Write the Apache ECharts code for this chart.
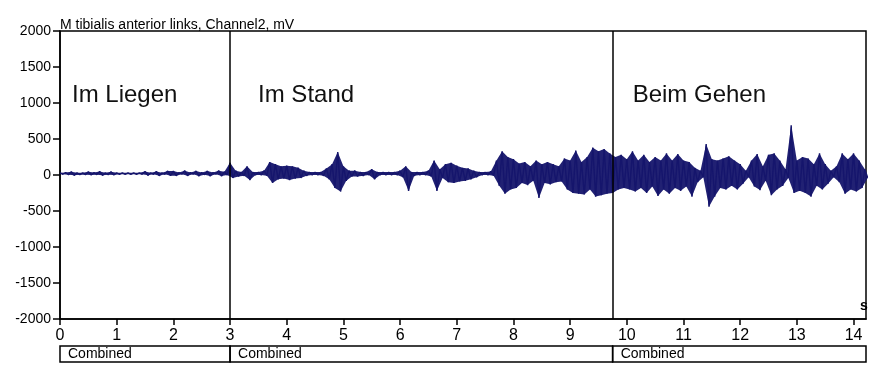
<!DOCTYPE html>
<html><head><meta charset="utf-8">
<script src="https://cdn.jsdelivr.net/npm/echarts@6/dist/echarts.min.js"></script>
<style>html,body{margin:0;padding:0;background:#fff}#c{width:880px;height:372px}</style>
</head><body><div id="c"></div>
<script>
// bin start times step 0.1 s, 0.0 .. 14.2
const binStep = 0.1;
// upper envelope per 0.1 s bin (mV)
const hiVals = [
 30,35,45,30,30,45,35,50,30,45,
 30,30,30,30,30,50,30,50,30,55,
 55,35,60,35,55,35,55,35,60,45,
 170,60,40,120,40,40,60,180,150,120,
 130,120,100,60,40,40,40,90,150,320,
 120,60,60,40,40,80,40,40,40,40,
 60,120,40,40,40,60,200,80,150,170,
 130,100,90,60,40,40,50,200,330,250,
 220,160,180,120,200,150,180,150,120,230,
 200,340,180,250,380,330,360,300,250,280,
 220,330,200,280,180,250,200,300,200,290,
 200,180,100,60,430,220,200,230,260,200,
 150,60,200,290,120,280,300,200,80,690,
 200,250,230,150,300,150,60,120,300,220,
 300,200,80
];
// lower envelope per 0.1 s bin (mV)
const loVals = [
 10,5,-5,5,5,0,5,-5,5,0,
 10,10,10,10,10,-5,10,-10,10,-10,
 -10,10,-10,10,-15,5,-15,10,-15,0,
 -40,-20,-10,-70,0,0,-10,-110,-60,-50,
 -70,-50,-40,-10,0,0,-10,-60,-180,-230,
 -80,-20,-20,-10,0,-60,0,0,0,0,
 -30,-220,-10,0,0,-20,-220,-40,-100,-110,
 -90,-80,-60,-30,0,0,-10,-150,-260,-200,
 -180,-110,-140,-80,-320,-110,-130,-100,-90,-200,
 -250,-260,-270,-200,-300,-280,-260,-250,-200,-180,
 -200,-230,-180,-250,-160,-290,-200,-260,-180,-220,
 -160,-300,-100,-30,-440,-300,-180,-200,-150,-200,
 -120,-30,-160,-210,-80,-280,-200,-150,-40,-250,
 -220,-250,-300,-150,-200,-120,-30,-100,-260,-200,
 -230,-180,-40
];
const xMax = 14.22;
const yTicks = [-2000,-1500,-1000,-500,0,500,1000,1500,2000];
const phaseBounds = [0, 3, 9.75, xMax];
const phaseNames = ['Im Liegen', 'Im Stand', 'Beim Gehen'];
const segLabel = 'Combined';
const titleText = 'M tibialis anterior links, Channel2, mV';

const signal = [];
for (let i = 0; i < hiVals.length; i++) {
  const t = +(i * binStep).toFixed(3);
  const t2 = +(t + binStep / 2).toFixed(3);
  signal.push([t, hiVals[i]]);
  signal.push([t2, loVals[i]]);
}

const NAVY = '#15156c';
const FONT = '"Liberation Sans", Arial, sans-serif';
const chart = echarts.init(document.getElementById('c'));
chart.setOption({
  animation: false,
  backgroundColor: '#ffffff',
  grid: { left: 60, right: 14, top: 31, bottom: 53, show: true, borderColor: '#000', borderWidth: 1.5, backgroundColor: 'transparent' },
  xAxis: {
    type: 'value', min: 0, max: xMax, interval: 1,
    axisLine: { show: true, onZero: false, lineStyle: { color: '#000', width: 1.5 } },
    axisTick: { show: true, length: 6, lineStyle: { color: '#000', width: 1.5 } },
    axisLabel: { color: '#000', fontSize: 16, fontFamily: FONT, margin: 9, showMaxLabel: false,
      formatter: v => String(v) },
    splitLine: { show: false }
  },
  yAxis: {
    type: 'value', min: yTicks[0], max: yTicks[yTicks.length - 1], interval: 500,
    axisLine: { show: true, lineStyle: { color: '#000', width: 1.5 } },
    axisTick: { show: true, length: 7, lineStyle: { color: '#000', width: 1.5 } },
    axisLabel: { color: '#000', fontSize: 14, fontFamily: FONT, margin: 9, formatter: v => String(v) },
    splitLine: { show: false }
  },
  series: [{
    type: 'custom',
    data: [[0, 0]],
    renderItem: function (params, api) {
      const pts = [];
      for (let i = 0; i < hiVals.length; i++) pts.push(api.coord([i * binStep, hiVals[i]]));
      for (let i = loVals.length - 1; i >= 0; i--) pts.push(api.coord([i * binStep + binStep / 2, loVals[i]]));
      return { type: 'polygon', shape: { points: pts }, style: { fill: NAVY, opacity: 0.95 } };
    },
    silent: true,
    z: 1
  }, {
    type: 'line', data: signal, showSymbol: false, symbol: 'none',
    lineStyle: { color: NAVY, width: 1.4 },
    z: 2,
    markLine: {
      silent: true, symbol: 'none', label: { show: false },
      lineStyle: { color: '#000', width: 1.5, type: 'solid' },
      data: [{ xAxis: phaseBounds[1] }, { xAxis: phaseBounds[2] }]
    }
  }]
});

function place() {
  const g = [];
  const labelOffsets = [12, 28, 20];
  const yTop = chart.convertToPixel({ gridIndex: 0 }, [0, yTicks[yTicks.length - 1]])[1];
  const yBot = chart.convertToPixel({ gridIndex: 0 }, [0, yTicks[0]])[1];
  const labelY = chart.convertToPixel({ gridIndex: 0 }, [0, 1100])[1];
  g.push({ type: 'text', x: 60, y: yTop + 1, style: { text: titleText, fill: '#000', font: '14px ' + FONT, verticalAlign: 'bottom' } });
  g.push({ type: 'text', left: 860, top: yBot - 20, style: { text: 's', fill: '#000', font: 'bold 14px ' + FONT } });
  for (let i = 0; i < phaseNames.length; i++) {
    const px = chart.convertToPixel({ gridIndex: 0 }, [phaseBounds[i], 0])[0];
    g.push({ type: 'text', x: px + labelOffsets[i], y: labelY, style: { text: phaseNames[i], fill: '#111', font: '24px ' + FONT, verticalAlign: 'middle' } });
    const px2 = chart.convertToPixel({ gridIndex: 0 }, [phaseBounds[i + 1], 0])[0];
    g.push({ type: 'rect', shape: { x: px, y: 346, width: px2 - px, height: 16 }, style: { fill: 'none', stroke: '#000', lineWidth: 1.5 } });
    g.push({ type: 'text', x: px + 8, y: 354, style: { text: segLabel, fill: '#000', font: '14px ' + FONT, verticalAlign: 'middle' } });
  }
  chart.setOption({ graphic: g });
}
place();
</script>
</body></html>
